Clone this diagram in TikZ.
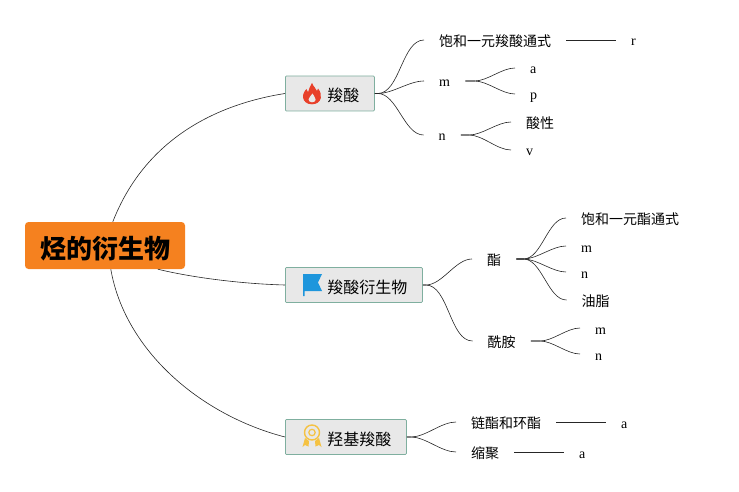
\documentclass[tikz,border=0pt]{standalone}
\usepackage{fontspec}
\setmainfont{Noto Sans CJK SC}
\newfontfamily\latf{Liberation Serif}
\tikzset{
  x=1pt,y=-1pt,
  conn/.style={draw=black!85,line width=0.6pt},
  rootbox/.style={fill=rootor,rounded corners=3.5pt,inner xsep=0pt,inner ysep=0pt,minimum width=160pt,minimum height=47pt,text height=25pt,text depth=0pt,font=\fontsize{26}{26}\selectfont\bfseries,anchor=center},
  mainbox/.style={draw=boxedge,fill=boxfill,line width=0.8pt,rounded corners=1pt,inner xsep=0pt,inner ysep=0pt,minimum height=35pt,text height=16.5pt,text depth=0pt,anchor=west,font=\fontsize{16}{16}\selectfont},
  cjk/.style={inner xsep=15pt,inner ysep=0pt,anchor=west,text height=13.8pt,text depth=0pt,font=\fontsize{14}{14}\selectfont},
  lat/.style={inner xsep=15pt,inner ysep=0pt,anchor=west,text height=12pt,text depth=0pt,font=\latf\fontsize{14}{14}\selectfont},
}
\definecolor{rootor}{HTML}{F5811F}
\definecolor{boxedge}{HTML}{7FAF9F}
\definecolor{boxfill}{HTML}{E8E8E8}
\definecolor{badge}{HTML}{F5C242}
\definecolor{flagblue}{HTML}{1E96DC}
\definecolor{flame}{HTML}{E8402A}
\newcommand{\branch}[3]{\draw[conn] (#1.east) -- ++(#3,0) to[out=0,in=180,looseness=0.8] (#2.west);}
\newcommand{\straight}[2]{\draw[conn] (#1.east) -- (#2.west);}
\begin{document}
\begin{tikzpicture}
\useasboundingbox (0,0) rectangle (739,492);
% root and main boxes
\node[rootbox] (root) at (105,245.5) {烃的衍生物};
\node[mainbox] (acid) at (285,93.5) {\hspace*{42pt}羧酸\hspace*{15pt}};
\node[mainbox] (deriv) at (285,285) {\hspace*{42pt}羧酸衍生物\hspace*{15pt}};
\node[mainbox] (hydroxy) at (285,437) {\hspace*{42pt}羟基羧酸\hspace*{15pt}};
% acid children
\node[cjk] (satacid) at (424,40) {饱和一元羧酸通式};
\node[lat] (acidr) at (616,40) {r};
\node[lat] (acidm) at (424,81) {m};
\node[lat] (acidma) at (515,68) {a};
\node[lat] (acidmp) at (515,94) {p};
\node[lat] (acidn) at (423.5,135) {n};
\node[cjk] (acidity) at (511,122) {酸性};
\node[lat] (acidv) at (511,150) {v};
% derivative children
\node[cjk] (ester) at (472,259) {酯};
\node[cjk] (satester) at (566,218) {饱和一元酯通式};
\node[lat] (esterm) at (566,246) {m};
\node[lat] (estern) at (566,272) {n};
\node[cjk] (oil) at (566.5,300) {油脂};
\node[cjk] (amide) at (472.5,341) {酰胺};
\node[lat] (amidem) at (580,328) {m};
\node[lat] (amiden) at (580,354) {n};
% hydroxy acid children
\node[cjk] (chain) at (456,422) {链酯和环酯};
\node[lat] (chaina) at (606,422) {a};
\node[cjk] (poly) at (456,452) {缩聚};
\node[lat] (polya) at (564,452) {a};
% root connectors
\draw[conn] ([xshift=88pt]root.north west) .. controls +(32,-82) and +(-70,11) .. (acid.west);
\draw[conn] ([xshift=133pt]root.south west) .. controls +(37,9) and +(-40,-1) .. (deriv.west);
\draw[conn] ([xshift=86pt]root.south west) .. controls +(14,81) and +(-85,-22) .. (hydroxy.west);
% branches
\branch{acid}{satacid}{3}
\branch{acid}{acidm}{3}
\branch{acid}{acidn}{3}
\straight{satacid}{acidr}
\branch{acidm}{acidma}{9}
\branch{acidm}{acidmp}{9}
\branch{acidn}{acidity}{8}
\branch{acidn}{acidv}{8}
\branch{deriv}{ester}{3}
\branch{deriv}{amide}{3}
\branch{ester}{satester}{7}
\branch{ester}{esterm}{7}
\branch{ester}{estern}{7}
\branch{ester}{oil}{7}
\branch{amide}{amidem}{9}
\branch{amide}{amiden}{9}
\branch{hydroxy}{chain}{4}
\branch{hydroxy}{poly}{4}
\straight{chain}{chaina}
\straight{poly}{polya}
% flame icon
\fill[flame] (312,83) .. controls (313.5,87) and (316,88) .. (317,91) .. controls (317.6,90) and (317.8,89.5) .. (318,88.5)
  .. controls (320.5,91.5) and (321.5,95) .. (320.8,98) .. controls (320,102) and (316.5,104.3) .. (312,104.3)
  .. controls (307,104.3) and (303.5,101.5) .. (303,97.5) .. controls (302.7,93.5) and (305,90.5) .. (306.5,89)
  .. controls (306.8,90.5) and (307,91.5) .. (308,92.3) .. controls (308.5,89) and (310.5,86) .. (312,83) -- cycle;
\fill[boxfill] (312.5,93.5) .. controls (313,96) and (316,97) .. (315.7,99.8) .. controls (315.4,101.5) and (313.8,102.3) .. (312,102.3)
  .. controls (310,102.3) and (308.5,101) .. (308.5,99.4) .. controls (308.5,97) and (311.5,96) .. (312.5,93.5) -- cycle;
% flag icon
\fill[flagblue] (303,274) -- (322,274) -- (318,282.5) -- (322,291) -- (304.5,291) -- (304.5,296) -- (303,296) -- cycle;
% badge icon
\fill[badge] (305,438) -- (309,441) -- (308.5,446.5) -- (305,445) -- (302.5,447) -- cycle;
\fill[badge] (319,438) -- (315,441) -- (315.5,446.5) -- (319,445) -- (321.5,447) -- cycle;
\draw[badge,line width=1.4pt,fill=boxfill] (312,432.5) circle (7.5);
\draw[badge,line width=1.2pt] (312,432.5) circle (3.2);
\end{tikzpicture}
\end{document}
